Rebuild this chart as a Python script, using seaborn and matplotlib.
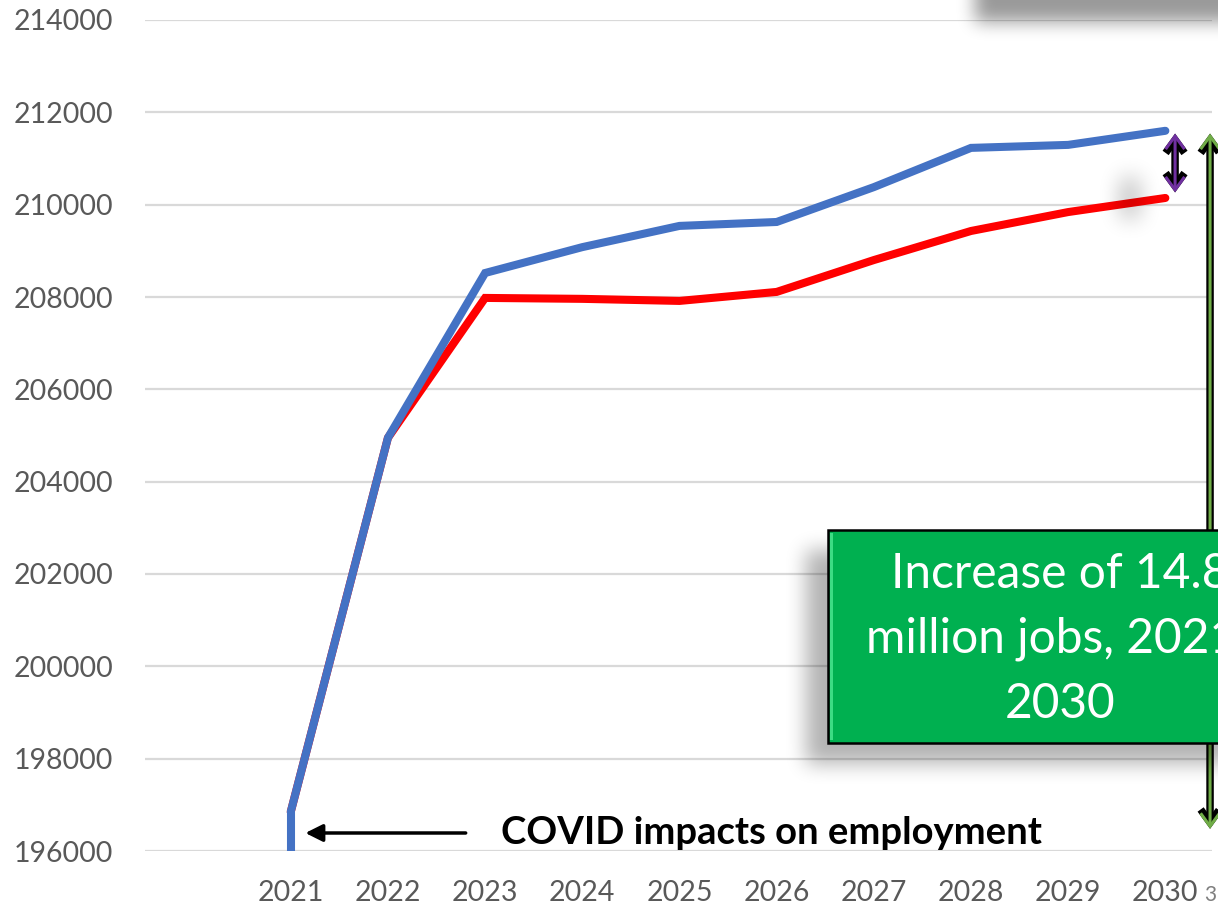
import numpy as np
import pandas as pd
import matplotlib
matplotlib.use("Agg")
import matplotlib.pyplot as plt
import seaborn as sns
from matplotlib.patches import Rectangle, FancyArrowPatch

# ---- data -------------------------------------------------------------
years = [2021, 2022, 2023, 2024, 2025, 2026, 2027, 2028, 2029, 2030]
higher_path = [196850, 204950, 208520, 209080, 209540, 209625, 210380, 211230, 211295, 211600]
lower_path = [196850, 204950, 207980, 207960, 207915, 208110, 208800, 209430, 209840, 210145]
series_names = ["Lower path", "Higher path"]
series_colors = ["#FF0000", "#4472C4"]
y_ticks = [196000, 198000, 200000, 202000, 204000, 206000, 208000, 210000, 212000, 214000]
covid_label = "COVID impacts on employment"
box_label = "Increase of 14.8\nmillion jobs, 2021-\n2030"
page_number = "3"

df = pd.DataFrame({
    "year": years * 2,
    "jobs": lower_path + higher_path,
    "series": [series_names[0]] * len(years) + [series_names[1]] * len(years),
})

# ---- figure -----------------------------------------------------------
W, H = 1218, 906
sns.set_theme(style="white")
plt.rcParams["font.family"] = ["Lato", "DejaVu Sans"]

fig = plt.figure(figsize=(W / 100, H / 100), dpi=100)
fig.patch.set_facecolor("white")
ax = fig.add_axes([145 / W, 1 - 851 / H, (1212 - 145) / W, (851 - 20) / H])
ax.set_facecolor("white")

sns.lineplot(data=df, x="year", y="jobs", hue="series", hue_order=series_names,
             palette=series_colors, linewidth=5.8, legend=False, ax=ax,
             solid_capstyle="round", solid_joinstyle="miter", zorder=3)

ax.set_xlim(years[0] - 1.5, years[-1] + 0.48)
ax.set_ylim(y_ticks[0], y_ticks[-1])

# drop at the start of the series, running down past the axis floor
ax.vlines(years[0], y_ticks[0] - 2000, higher_path[0], color=series_colors[1],
          linewidth=5.8, zorder=3)

ax.set_yticks(y_ticks)
ax.set_yticklabels([str(v) for v in y_ticks])
ax.set_xticks(years)
ax.set_xticklabels([str(y) for y in years])
ax.tick_params(axis="y", length=0, pad=23, labelsize=20.5, labelcolor="#595959")
ax.tick_params(axis="x", length=0, pad=21, labelsize=20.5, labelcolor="#595959")
ax.grid(axis="y", color="#D9D9D9", linewidth=1.6, zorder=0)
ax.grid(axis="x", visible=False)
for s in ax.spines.values():
    s.set_visible(False)
ax.set_xlabel("")
ax.set_ylabel("")

# ---- COVID annotation ------------------------------------------------
y_covid = 196390
ax.annotate("", xy=(years[0] + 0.15, y_covid), xytext=(years[0] + 1.8, y_covid),
            arrowprops=dict(arrowstyle="-|>", color="black", lw=2.5,
                            mutation_scale=26, shrinkA=0, shrinkB=0),
            annotation_clip=False, zorder=6)
ax.text(years[0] + 2.16, y_covid, covid_label, fontsize=27.5, fontweight="bold",
        color="black", ha="left", va="center", zorder=6)


# ---- double-headed arrows at the right edge -------------------------
def double_arrow(x, y0, y1, face):
    style = "<->,head_length=0.55,head_width=0.4"
    for lw, col in [(5.4, "black"), (2.2, face)]:
        arr = FancyArrowPatch((x, y0), (x, y1), arrowstyle=style,
                              mutation_scale=17, lw=lw, color=col,
                              shrinkA=0, shrinkB=0, clip_on=False, zorder=7,
                              joinstyle="miter", capstyle="butt")
        ax.add_patch(arr)


double_arrow(years[-1] + 0.1, higher_path[-1] - 60, lower_path[-1] + 120, "#7030A0")
double_arrow(years[-1] + 0.46, higher_path[-1] - 60, 196480, "#70AD47")


# ---- soft drop shadows ----------------------------------------------
def box_blur(a, r):
    for axis in (0, 1):
        for _ in range(3):
            pad = [(r + 1, r) if i == axis else (0, 0) for i in range(2)]
            c = np.cumsum(np.pad(a, pad, mode="edge"), axis=axis)
            if axis == 0:
                a = (c[2 * r + 1:] - c[:-2 * r - 1]) / (2 * r + 1)
            else:
                a = (c[:, 2 * r + 1:] - c[:, :-2 * r - 1]) / (2 * r + 1)
    return a


shadows = [((975, 1400), (-200, 22), 0.40, 8),
           ((806, 1400), (550, 764), 0.30, 9),
           ((1122, 1138), (178, 218), 0.30, 10)]
rgba = np.zeros((H, W, 4))
alpha = np.zeros((H, W))
P = 200
for (x0, x1), (y0, y1), a, r in shadows:
    m = np.zeros((H + 2 * P, W + 2 * P))
    m[max(y0 + P, 0):y1 + P, max(x0 + P, 0):min(x1 + P, W + 2 * P)] = 1.0
    m = box_blur(m, r)[P:P + H, P:P + W]
    alpha = np.maximum(alpha, m * a)
rgba[..., 3] = alpha
fig.figimage(rgba, xo=0, yo=0, origin="upper", zorder=4)

# ---- green callout box ----------------------------------------------
bx0, bx1, by0, by1 = 828, 1292, 530, 743
fig.add_artist(Rectangle((bx0 / W, 1 - by1 / H), (bx1 - bx0) / W, (by1 - by0) / H,
                         transform=fig.transFigure, facecolor="#00B050",
                         edgecolor="black", linewidth=1.8, zorder=8))
fig.add_artist(Rectangle(((bx0 + 2) / W, 1 - (by1 - 3) / H), 3 / W, (by1 - by0 - 6) / H,
                         transform=fig.transFigure, facecolor="#3DDC84",
                         edgecolor="none", zorder=8.5))
fig.text((bx0 + bx1) / 2 / W, 1 - 639 / H, box_label, color="white", fontsize=34.5,
         ha="center", va="center", linespacing=1.58, zorder=9)

fig.text(1210 / W, 1 - 895 / H, page_number, color="#7F7F7F", fontsize=15,
         ha="center", va="center")

fig.savefig("out.png", dpi=100, facecolor="white")
